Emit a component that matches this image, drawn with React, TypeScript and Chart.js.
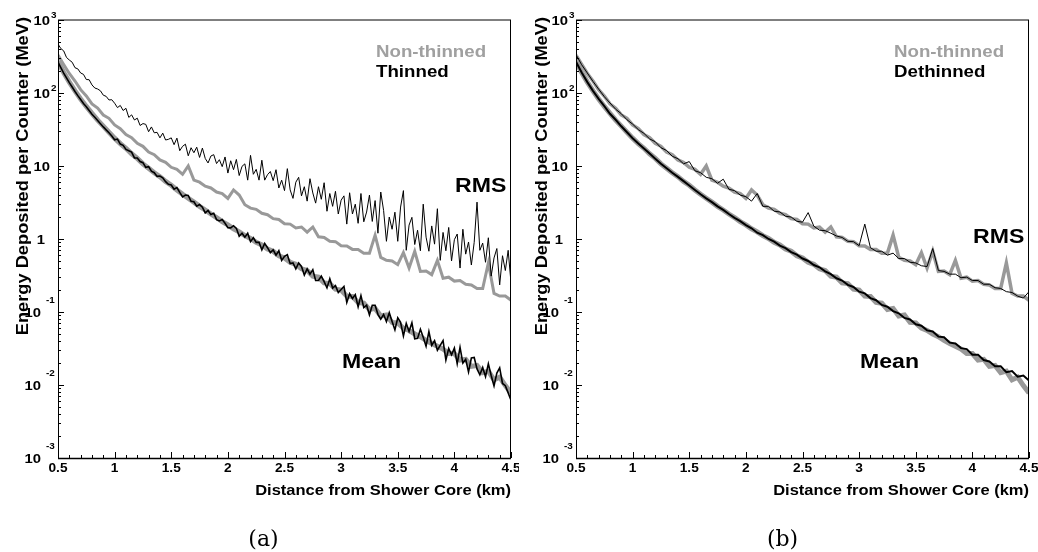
import React, { useEffect, useRef } from 'react';
import { Chart, registerables } from 'chart.js';
Chart.register(...registerables);

// distance from shower core (km), 0.05 km bins
const X = [
  0.5, 0.55, 0.6, 0.65, 0.7, 0.75, 0.8, 0.85, 0.9, 0.95,
  1.0, 1.05, 1.1, 1.15, 1.2, 1.25, 1.3, 1.35, 1.4, 1.45,
  1.5, 1.55, 1.6, 1.65, 1.7, 1.75, 1.8, 1.85, 1.9, 1.95,
  2.0, 2.05, 2.1, 2.15, 2.2, 2.25, 2.3, 2.35, 2.4, 2.45,
  2.5, 2.55, 2.6, 2.65, 2.7, 2.75, 2.8, 2.85, 2.9, 2.95,
  3.0, 3.05, 3.1, 3.15, 3.2, 3.25, 3.3, 3.35, 3.4, 3.45,
  3.5, 3.55, 3.6, 3.65, 3.7, 3.75, 3.8, 3.85, 3.9, 3.95,
  4.0, 4.05, 4.1, 4.15, 4.2, 4.25, 4.3, 4.35, 4.4, 4.45, 4.5,
];
// distance from shower core (km), 0.025 km bins (thinned curves)
const X_FINE = [
  0.5, 0.525, 0.55, 0.575, 0.6, 0.625, 0.65, 0.675, 0.7, 0.725, 0.75, 0.775, 0.8, 0.825, 0.85, 0.875, 0.9, 0.925, 0.95, 0.975,
  1.0, 1.025, 1.05, 1.075, 1.1, 1.125, 1.15, 1.175, 1.2, 1.225, 1.25, 1.275, 1.3, 1.325, 1.35, 1.375, 1.4, 1.425, 1.45, 1.475,
  1.5, 1.525, 1.55, 1.575, 1.6, 1.625, 1.65, 1.675, 1.7, 1.725, 1.75, 1.775, 1.8, 1.825, 1.85, 1.875, 1.9, 1.925, 1.95, 1.975,
  2.0, 2.025, 2.05, 2.075, 2.1, 2.125, 2.15, 2.175, 2.2, 2.225, 2.25, 2.275, 2.3, 2.325, 2.35, 2.375, 2.4, 2.425, 2.45, 2.475,
  2.5, 2.525, 2.55, 2.575, 2.6, 2.625, 2.65, 2.675, 2.7, 2.725, 2.75, 2.775, 2.8, 2.825, 2.85, 2.875, 2.9, 2.925, 2.95, 2.975,
  3.0, 3.025, 3.05, 3.075, 3.1, 3.125, 3.15, 3.175, 3.2, 3.225, 3.25, 3.275, 3.3, 3.325, 3.35, 3.375, 3.4, 3.425, 3.45, 3.475,
  3.5, 3.525, 3.55, 3.575, 3.6, 3.625, 3.65, 3.675, 3.7, 3.725, 3.75, 3.775, 3.8, 3.825, 3.85, 3.875, 3.9, 3.925, 3.95, 3.975,
  4.0, 4.025, 4.05, 4.075, 4.1, 4.125, 4.15, 4.175, 4.2, 4.225, 4.25, 4.275, 4.3, 4.325, 4.35, 4.375, 4.4, 4.425, 4.45, 4.475, 4.5,
];

// Non-thinned (shared by both panels)
const nonThinnedMean = [
  270, 191, 141, 107, 83, 65.5, 52.5, 42.5, 35.2, 29,
  24.1, 20.3, 17.5, 14.7, 12.7, 10.7, 9.3, 8.1, 7.15, 6.15,
  5.45, 4.7, 4.1, 3.62, 3.2, 2.8, 2.5, 2.2, 1.97, 1.73,
  1.56, 1.38, 1.25, 1.11, 1.02, 0.9, 0.83, 0.73, 0.68, 0.59,
  0.55, 0.48, 0.45, 0.39, 0.37, 0.31, 0.3, 0.25, 0.245, 0.205,
  0.2, 0.165, 0.163, 0.135, 0.132, 0.108, 0.112, 0.088, 0.091, 0.072,
  0.071, 0.06, 0.056, 0.05, 0.046, 0.041, 0.037, 0.034, 0.031, 0.027,
  0.027, 0.022, 0.0225, 0.018, 0.0185, 0.0148, 0.0155, 0.0118, 0.0128, 0.0098, 0.0078,
];
const nonThinnedRms = [
  331, 246, 185, 146, 111, 91, 71, 62, 50, 45,
  36.5, 32.5, 27, 24.5, 20.5, 18.6, 15.5, 14.3, 12.1, 11.2,
  9.6, 9.0, 7.7, 10.0, 6.4, 6.0, 5.3, 5.0, 4.4, 4.2,
  3.6, 4.7, 4.0, 2.95, 2.65, 2.55, 2.25, 2.15, 1.9, 1.85,
  1.62, 1.6, 1.42, 1.46, 1.24, 1.46, 1.07, 1.05, 0.93, 0.92,
  0.81, 0.8, 0.72, 0.72, 0.64, 0.64, 1.13, 0.56, 0.51, 0.5,
  0.445, 0.65, 0.4, 0.68, 0.36, 0.365, 0.325, 0.51, 0.29, 0.3,
  0.265, 0.27, 0.24, 0.235, 0.21, 0.21, 0.47, 0.18, 0.165, 0.165, 0.145,
];

// Panel (a): thinned (0.025 km bins)
const thinnedMean = [
  264, 222, 187, 161, 139, 121, 105, 92, 81.5, 72, 65, 57.5, 51, 46.5, 42, 38, 34.3, 31.3, 28.5, 25.8,
  22.9, 23.4, 20.0, 19.2, 16.9, 16.2, 15.5, 12.9, 12.85, 11.5, 11.1, 9.6, 9.8, 8.5, 8.1, 7.2, 7.3, 6.9, 6.1, 5.6,
  5.5, 4.8, 5.06, 4.35, 3.77, 4.0, 3.95, 3.29, 3.23, 2.81, 2.96, 2.73, 2.28, 2.46, 2.16, 2.25, 1.84, 1.77, 1.85, 1.64,
  1.43, 1.42, 1.52, 1.4, 1.09, 1.2, 1.06, 1.2, 0.92, 1.04, 0.9, 0.9, 0.71, 0.87, 0.76, 0.65, 0.71, 0.6, 0.69, 0.51,
  0.58, 0.61, 0.46, 0.47, 0.39, 0.47, 0.42, 0.32, 0.39, 0.33, 0.38, 0.27, 0.27, 0.31, 0.26, 0.214, 0.285, 0.213, 0.23, 0.185,
  0.203, 0.224, 0.135, 0.178, 0.153, 0.173, 0.118, 0.168, 0.115, 0.124, 0.0915, 0.124, 0.124, 0.093, 0.08, 0.0926, 0.074, 0.098, 0.074, 0.057,
  0.083, 0.072, 0.047, 0.07, 0.054, 0.071, 0.043, 0.0435, 0.058, 0.045, 0.034, 0.054, 0.035, 0.0405, 0.03, 0.035, 0.0406, 0.022, 0.0317, 0.026,
  0.032, 0.0196, 0.0328, 0.02, 0.0224, 0.0151, 0.0234, 0.0238, 0.0166, 0.0138, 0.0174, 0.013, 0.0195, 0.0135, 0.0097, 0.0146, 0.0172, 0.0105, 0.0098, 0.0078, 0.0062,
];
const thinnedRms = [
  468, 406, 378, 307, 283, 264, 222, 214, 188, 180, 153, 152, 129, 117, 113.5, 107, 93.3, 90, 80.3, 80.9,
  72.4, 63.1, 67.5, 57.6, 61.7, 46.3, 50.2, 42.7, 45.2, 35.9, 38.1, 37.2, 29.5, 34.3, 28.5, 28.9, 24.3, 28.2, 22.7, 23.2,
  24.3, 19.6, 24.1, 16.2, 18.6, 19.9, 13.8, 17.8, 15.2, 18.1, 13.1, 17.6, 12.7, 11.0, 13.7, 14.3, 10.8, 12.2, 9.8, 13.3,
  8.0, 11.8, 8.9, 12.3, 7.4, 9.9, 10.7, 6.4, 14, 7.7, 9.0, 6.4, 12, 6.4, 7.6, 8.4, 6.3, 8.9, 5.0, 6.4,
  4.6, 9.2, 4.7, 3.6, 6.0, 7.0, 3.9, 5.2, 3.3, 6.7, 4.27, 3.1, 5.2, 3.5, 5.9, 2.4, 4.2, 2.8, 4.5, 2.2,
  3.4, 3.9, 1.6, 4.3, 2.2, 3.0, 1.64, 4.2, 1.72, 2.34, 4.0, 1.74, 3.36, 1.2, 4.4, 2.46, 0.93, 2.0, 1.36, 2.33,
  0.93, 2.74, 4.6, 0.7, 1.55, 1.98, 0.84, 1.32, 0.69, 3.0, 1.06, 0.68, 1.51, 0.85, 2.6, 0.51, 1.23, 0.69, 1.44, 0.5,
  0.98, 1.17, 0.4, 1.36, 0.62, 0.91, 0.44, 0.9, 3.2, 0.7, 0.88, 0.48, 1.04, 0.31, 0.55, 0.74, 0.235, 0.59, 0.37, 0.7, 0.25,
];

// Panel (b): dethinned
const dethinnedMean = [
  268, 191, 141, 107, 83, 66, 52, 43, 35, 29,
  24, 20.4, 17.4, 14.8, 12.6, 10.7, 9.3, 8.1, 7.1, 6.2,
  5.4, 4.7, 4.1, 3.6, 3.2, 2.8, 2.5, 2.2, 1.95, 1.76,
  1.55, 1.4, 1.22, 1.13, 1.0, 0.92, 0.81, 0.75, 0.66, 0.61,
  0.54, 0.5, 0.44, 0.41, 0.36, 0.33, 0.29, 0.27, 0.235, 0.22,
  0.19, 0.18, 0.155, 0.145, 0.125, 0.118, 0.103, 0.096, 0.083, 0.079,
  0.068, 0.065, 0.056, 0.054, 0.046, 0.045, 0.038, 0.037, 0.032, 0.031,
  0.026, 0.026, 0.022, 0.021, 0.018, 0.018, 0.015, 0.0155, 0.013, 0.0135, 0.0115,
];
const dethinnedRms = [
  335, 244, 188, 144, 113, 89, 73, 60, 52, 43,
  37.5, 31.5, 28, 23.5, 21.5, 17.8, 16.3, 13.6, 12.6, 10.7,
  11.5, 8.6, 8.1, 7.0, 6.7, 5.8, 6.6, 4.8, 4.6, 4.0,
  3.8, 3.3, 4.2, 2.8, 2.8, 2.4, 2.35, 2.05, 2.0, 1.75,
  1.7, 2.3, 1.5, 1.32, 1.3, 1.2, 1.1, 1.05, 0.93, 0.92,
  0.81, 1.6, 0.76, 0.68, 0.68, 0.6, 0.64, 0.54, 0.54, 0.48,
  0.47, 0.43, 0.42, 0.74, 0.37, 0.36, 0.33, 0.33, 0.295, 0.3,
  0.27, 0.27, 0.24, 0.24, 0.215, 0.21, 0.19, 0.185, 0.165, 0.155, 0.19,
];

const X_TICKS = [0.5, 1, 1.5, 2, 2.5, 3, 3.5, 4, 4.5];
const X_TICK_LABELS = ['0.5', '1', '1.5', '2', '2.5', '3', '3.5', '4', '4.5'];
const Y_DECADES = [3, 2, 1, 0, -1, -2, -3];

const GRAY = '#999999';
const SANS = '"Liberation Sans", Arial, Helvetica, sans-serif';
const W = 519;
const H = 552;

type TextOpt = {
  size: number; color?: string; align?: CanvasTextAlign; baseline?: CanvasTextBaseline;
  rot?: number; sx?: number; bold?: boolean; family?: string;
};
function txt(ctx: CanvasRenderingContext2D, s: string, x: number, y: number, o: TextOpt) {
  ctx.save();
  ctx.translate(x, y);
  if (o.rot) ctx.rotate(o.rot);
  ctx.scale(o.sx ?? 1.1, 1);
  ctx.font = `${o.bold === false ? '' : 'bold '}${o.size}px ${o.family ?? SANS}`;
  ctx.fillStyle = o.color ?? '#000';
  ctx.textAlign = o.align ?? 'left';
  ctx.textBaseline = o.baseline ?? 'alphabetic';
  ctx.fillText(s, 0, 0);
  ctx.restore();
}

type PanelCfg = {
  id: string;
  left: number;
  plotLeft: number;
  plotRight: number;
  meanX: number[];
  mean: number[];
  rmsX: number[];
  rms: number[];
  meanWidth: number;
  rmsGrayWidth: number;
  legend: string;
  caption: string;
  rmsLabel: [number, number];
  meanLabel: [number, number];
};

function makePlugin(cfg: PanelCfg) {
  return {
    id: 'decor' + cfg.id,
    afterDraw(chart: any) {
      const ctx: CanvasRenderingContext2D = chart.ctx;
      const { left: L, right: R, top: T, bottom: B } = chart.chartArea;
      const xs = chart.scales.x;
      const ys = chart.scales.y;
      ctx.save();
      ctx.strokeStyle = '#000';
      ctx.lineWidth = 1;
      // frame
      ctx.beginPath();
      ctx.moveTo(L, T); ctx.lineTo(R, T);
      ctx.stroke();
      ctx.beginPath();
      ctx.moveTo(L + 0.5, T); ctx.lineTo(L + 0.5, B + 1);
      ctx.moveTo(R - 0.5, T); ctx.lineTo(R - 0.5, B + 1);
      ctx.stroke();
      ctx.lineWidth = 1.5;
      ctx.beginPath();
      ctx.moveTo(L, B + 0.5); ctx.lineTo(R, B + 0.5);
      ctx.stroke();
      ctx.lineWidth = 1;
      // x ticks
      ctx.beginPath();
      for (let k = 5; k <= 45; k++) {
        const px = Math.round(xs.getPixelForValue(k / 10)) + 0.5;
        const len = k % 5 === 0 ? 6 : 3;
        ctx.moveTo(px, B); ctx.lineTo(px, B - len);
      }
      // y ticks
      for (const d of Y_DECADES) {
        const py = Math.round(ys.getPixelForValue(Math.pow(10, d))) + 0.5;
        ctx.moveTo(L, py); ctx.lineTo(L + 6, py);
        if (d < 3) {
          for (let m = 2; m <= 9; m++) {
            const p = Math.round(ys.getPixelForValue(m * Math.pow(10, d))) + 0.5;
            ctx.moveTo(L, p); ctx.lineTo(L + 3, p);
          }
        }
      }
      ctx.stroke();
      ctx.restore();

      // x tick labels
      X_TICKS.forEach((v, i) => {
        txt(ctx, X_TICK_LABELS[i], xs.getPixelForValue(v), 472, { size: 12, align: 'center', sx: 1.14 });
      });
      // y tick labels
      for (const d of Y_DECADES) {
        const py = ys.getPixelForValue(Math.pow(10, d));
        if (d === 0) {
          txt(ctx, '1', L - 13, py + 1.5, { size: 13.5, align: 'right', baseline: 'middle' });
        } else if (d === 1) {
          txt(ctx, '10', L - 8, py + 1.5, { size: 13.5, align: 'right', baseline: 'middle' });
        } else if (d > 0) {
          txt(ctx, '10', L - 8, py + 1.5, { size: 13.5, align: 'right', baseline: 'middle' });
          txt(ctx, String(d), L - 7, py - 4, { size: 9, align: 'left', baseline: 'middle' });
        } else {
          txt(ctx, '10', L - 17, py + 1.5, { size: 13.5, align: 'right', baseline: 'middle' });
          txt(ctx, String(d), L - 12, py - 11.5, { size: 9, align: 'left', baseline: 'middle' });
        }
      }
      // axis titles
      txt(ctx, 'Distance from Shower Core (km)', R, 495, { size: 15, align: 'right', sx: 1.1 });
      txt(ctx, 'Energy Deposited per Counter (MeV)', 28, 17, { size: 16, align: 'right', rot: -Math.PI / 2, sx: 1.14 });
      // legend
      txt(ctx, 'Non-thinned', L + 318, 57, { size: 17, color: '#a0a0a0' });
      txt(ctx, cfg.legend, L + 318, 77, { size: 17 });
      // curve labels
      txt(ctx, 'RMS', cfg.rmsLabel[0], cfg.rmsLabel[1], { size: 21 });
      txt(ctx, 'Mean', cfg.meanLabel[0], cfg.meanLabel[1], { size: 21 });
      // caption
      txt(ctx, cfg.caption, 263.5, 546, { size: 22, bold: false, align: 'center', sx: 1, family: '"DejaVu Serif", "Liberation Serif", serif' });
    },
  };
}

function pts(xs: number[], ys: number[]) {
  return xs.map((x, i) => ({ x, y: ys[i] }));
}

function Panel({ cfg }: { cfg: PanelCfg }) {
  const ref = useRef<HTMLCanvasElement>(null);
  useEffect(() => {
    const line = (xs: number[], data: number[], color: string, width: number, order: number) => ({
      data: pts(xs, data),
      borderColor: color,
      backgroundColor: color,
      borderWidth: width,
      pointRadius: 0,
      tension: 0,
      fill: false,
      order,
      borderJoinStyle: 'miter' as const,
    });
    const chart = new Chart(ref.current as HTMLCanvasElement, {
      type: 'line',
      data: {
        datasets: [
          line(cfg.rmsX, cfg.rms, '#000000', 1, 0),
          line(cfg.meanX, cfg.mean, '#000000', cfg.meanWidth, 0),
          line(X, nonThinnedRms, GRAY, cfg.rmsGrayWidth, 1),
          line(X, nonThinnedMean, GRAY, 5, 1),
        ],
      },
      options: {
        responsive: false,
        animation: false,
        devicePixelRatio: 1,
        events: [],
        layout: { padding: { left: cfg.plotLeft, right: W - cfg.plotRight, top: 20, bottom: H - 458 } },
        plugins: { legend: { display: false }, tooltip: { enabled: false }, title: { display: false } },
        scales: {
          x: { type: 'linear', min: 0.5, max: 4.5, display: false },
          y: { type: 'logarithmic', min: 0.001, max: 1000, display: false },
        },
      },
      plugins: [makePlugin(cfg)],
    } as any);
    return () => chart.destroy();
  }, []);
  return (
    <canvas
      ref={ref}
      width={W}
      height={H}
      style={{ position: 'absolute', left: cfg.left, top: 0, width: W, height: H }}
    />
  );
}

const panelA: PanelCfg = {
  id: 'a', left: 0, plotLeft: 58, plotRight: 511,
  meanX: X_FINE, mean: thinnedMean, rmsX: X_FINE, rms: thinnedRms,
  meanWidth: 1.6, rmsGrayWidth: 3,
  legend: 'Thinned', caption: '(a)',
  rmsLabel: [455, 192], meanLabel: [342, 368],
};
const panelB: PanelCfg = {
  id: 'b', left: 519, plotLeft: 57, plotRight: 510,
  meanX: X, mean: dethinnedMean, rmsX: X, rms: dethinnedRms,
  meanWidth: 2, rmsGrayWidth: 3.5,
  legend: 'Dethinned', caption: '(b)',
  rmsLabel: [454, 243], meanLabel: [341, 368],
};

export default function App() {
  return (
    <div style={{ position: 'fixed', left: 0, top: 0, width: 1038, height: 552, background: '#ffffff', overflow: 'hidden' }}>
      <Panel cfg={panelA} />
      <Panel cfg={panelB} />
    </div>
  );
}
